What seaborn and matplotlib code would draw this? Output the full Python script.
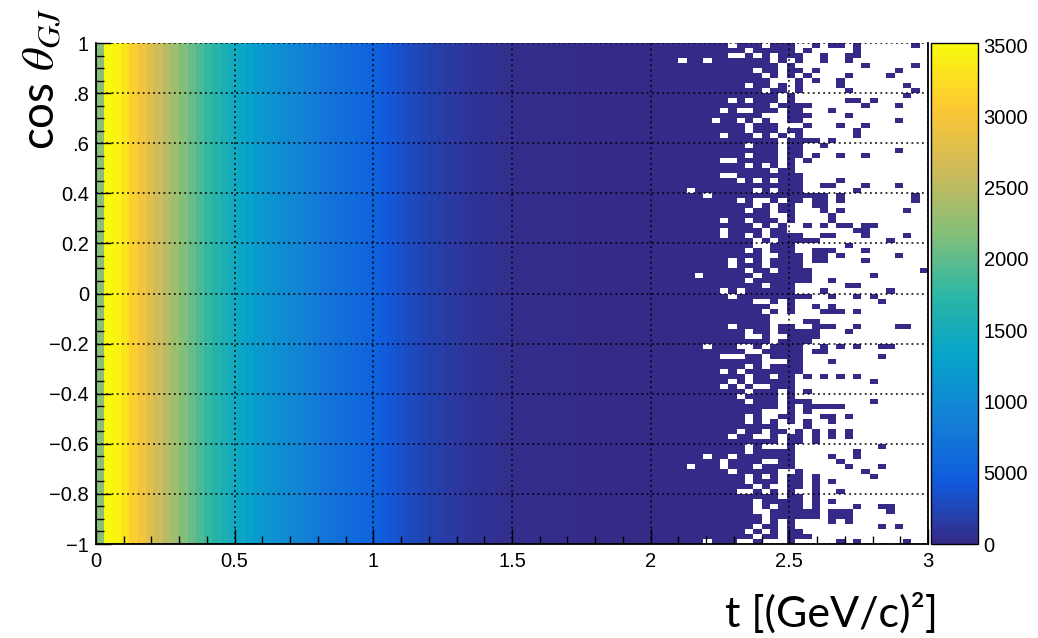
import numpy as np
import pandas as pd
import matplotlib
matplotlib.use("Agg")
import matplotlib.pyplot as plt
import seaborn as sns
from matplotlib.colors import LinearSegmentedColormap

# ---------------- data ----------------
t_min, t_max, n_t = 0.0, 3.0, 100
cos_min, cos_max, n_cos = -1.0, 1.0, 100

# counts per t bin (same for every cos bin), bin width 0.03
t_profile = [
    2200, 3500, 3450, 3300, 3120, 2950, 2780, 2620, 2470, 2320,
    2180, 2040, 1910, 1790, 1670, 1560, 1460, 1370, 1290, 1220,
    1150, 1090, 1030, 970, 910, 860, 810, 760, 710, 660,
    620, 580, 540, 500, 440, 390, 345, 300, 262, 228,
    198, 170, 146, 125, 106, 90, 76, 64, 54, 45,
    38, 33, 29, 25, 22, 19, 17, 15, 13, 12,
    11, 10, 9, 8, 7, 7, 6, 6, 5, 5,
    4, 4, 4, 3, 3, 3, 3, 2, 2, 2,
    2, 2, 2, 2, 2, 2, 2, 1, 1, 1,
    1, 1, 1, 1, 1, 1, 1, 1, 1, 1,
]

# occupancy of the sparse tail (t bins 68..99), '#' = filled, '.' = empty
# first string = top row (cos theta ~ 1)
sparse_first_bin = 68
sparse_rows = [
    "########.###.###..#.##.#......#.",
    "##########.#####.#.....#........",
    "########..#.#.###..#..##........",
    "##.##.#######.#.#..#..#.........",
    "##############.#........#.....#.",
    "###########.##.##.#.........#...",
    "############.#.#.#....#....#....",
    "#############...#.#..#..........",
    "##########.##.#.#....#.......#..",
    "############.##.#.....#.......#.",
    "##############.#.............#..",
    "########.#.###.#......##.#......",
    "#############.####......#...#...",
    "#######.#..###.##...#...........",
    "############...###....#.........",
    "######.##.#.#..##...........#...",
    "##########.###...#...#..#.......",
    "##########.###.##......#........",
    "#######.###.#.#.#......#........",
    "##############.####.#...........",
    "##########.###.##..#............",
    "##############.##...........#...",
    "##########.###.##.#..#..#.......",
    "#######..#####.#.#..............",
    "##########.#.#.#................",
    "#############.##................",
    "#######..########...............",
    "#########.#.#.###....#..........",
    "#################..##...#...#...",
    "###.#######.#.###......#........",
    "#####.##############.#........#.",
    "#########.#..#.##.##.#........#.",
    "###########.#.##..##............",
    "##########.##.##...#.#.......#..",
    "#############..#....#...........",
    "#######.##.###.#....#...........",
    "###########.#.#..#.#.##.##......",
    "#######.####.##........##.......",
    "#######.##.#.####..##...#....#..",
    "###########.#.#####........#....",
    "###########..###......#.........",
    "##########.#.###..###...#.......",
    "############..###.##.#......#...",
    "########.#.#.####.##....#.......",
    "########.###.####...............",
    "##########.##.####.............#",
    "####.######.######.......#......",
    "##########.#######..#...........",
    "############.###......##........",
    "#######.#.######...#.......#....",
    "########.#########..#..#.#......",
    "###########..#.#..........#.....",
    "#############..#..#.#...........",
    "############.#.#...###.#........",
    "#############...................",
    "#############....##.............",
    "########.####.##..###..#....##..",
    "##########.##.#####...#.........",
    "##########..#..####.............",
    "#############.####..............",
    "#####.###..#.####..#.#.#..##....",
    "##########..#####.##............",
    "#######...##.####.........#.....",
    "############...##...#...........",
    "##########.#.####...............",
    "#######.#.#######...............",
    "##########.##.##.#.#.#.#........",
    "########.#.#####.........#......",
    "#######.#.#..###................",
    "##########.###.#.#..............",
    "#########.####.#................",
    "##########.###.###.......#......",
    "##############.#.#####..........",
    "############...#.#..............",
    "##########.#..##...##.#.........",
    "##########.#.#.#.#..#...........",
    "##############...#..............",
    "#########.##.##.#.#.#.#.........",
    "########.##..#.##.#.#.#.........",
    "##############.##.#.............",
    "##########.#...#..........#.....",
    "##########.#####.......#........",
    "#####.##.#######....#..#........",
    "#######.####..##.....#..........",
    "###.###.###.####......#...#.....",
    "########.#####..#.......#.......",
    "##########.#.#.##.#......#......",
    "##########.###.##.#.#...........",
    "###########.#..##.#.............",
    "#########..#.#.#..#..#..........",
    "##############.##.#.............",
    "###########.#####.#.#...........",
    "###########.#.###.#....#..##....",
    "###########..######.###....#....",
    "############.######.###.........",
    "############.#.#....#.#.........",
    "###########.##.#..........#.#...",
    "##########.#.#.##...............",
    "###########.##.###..............",
    "#####.###..#...#.....#.#.....#..",
]

x_ticks = [0, 0.5, 1, 1.5, 2, 2.5, 3]
x_ticklabels = ["0", "0.5", "1", "1.5", "2", "2.5", "3"]
y_ticks = [1, 0.8, 0.6, 0.4, 0.2, 0, -0.2, -0.4, -0.6, -0.8, -1]
y_ticklabels = ["1", ".8", ".6", "0.4", "0.2", "0", "\u22120.2", "\u22120.4",
                "\u22120.6", "\u22120.8", "\u22121"]
z_ticks = [0, 500, 1000, 1500, 2000, 2500, 3000, 3500]
z_ticklabels = ["0", "5000", "1000", "1500", "2000", "2500", "3000", "3500"]
z_max = 3515

# ---------------- build the 2D histogram ----------------
dt = (t_max - t_min) / n_t
dc = (cos_max - cos_min) / n_cos
t_centers = np.round(t_min + dt * (np.arange(n_t) + 0.5), 4)
cos_centers = np.round(cos_max - dc * (np.arange(n_cos) + 0.5), 4)  # top row first

counts = np.zeros((n_cos, n_t))
for i in range(n_cos):
    row = sparse_rows[i].ljust(n_t - sparse_first_bin, ".")
    for j in range(n_t):
        if j < sparse_first_bin or row[j - sparse_first_bin] == "#":
            counts[i, j] = t_profile[j]
df = pd.DataFrame(counts, index=cos_centers, columns=t_centers)

# ROOT kBird palette
bird_r = [0.2082, 0.0592, 0.0780, 0.0232, 0.1802, 0.5301, 0.8186, 0.9956, 0.9764]
bird_g = [0.1664, 0.3599, 0.5041, 0.6419, 0.7178, 0.7492, 0.7328, 0.7862, 0.9832]
bird_b = [0.5293, 0.8684, 0.8385, 0.7914, 0.6425, 0.4662, 0.3499, 0.1968, 0.0539]
stops = np.linspace(0, 1, 9)
bird = LinearSegmentedColormap.from_list(
    "bird", list(zip(stops, zip(bird_r, bird_g, bird_b))), N=256)

# ---------------- figure ----------------
sns.set_style("white")
plt.rcParams["font.family"] = ["Liberation Sans", "DejaVu Sans"]
plt.rcParams["mathtext.fontset"] = "stix"
for key in ["text.color", "axes.labelcolor", "xtick.color", "ytick.color",
            "xtick.labelcolor", "ytick.labelcolor", "axes.edgecolor"]:
    plt.rcParams[key] = "black"

fig = plt.figure(figsize=(10.38, 6.38), dpi=100)
W, H = 1038, 638
ax = fig.add_axes([96 / W, (H - 544) / H, 832 / W, 501 / H])
cax = fig.add_axes([931 / W, (H - 544) / H, 47 / W, 501 / H])

sns.heatmap(df, ax=ax, cmap=bird, vmin=0, vmax=z_max, mask=(counts <= 0),
            cbar_ax=cax, xticklabels=False, yticklabels=False)

def tpos(t):
    return (np.asarray(t, dtype=float) - t_min) / dt

def cpos(c):
    return (cos_max - np.asarray(c, dtype=float)) / dc

ax.set_xticks(tpos(x_ticks))
ax.set_xticklabels(x_ticklabels, fontsize=14.5, rotation=0, color="black")
ax.set_xticks(tpos(np.arange(0, 3.0001, 0.1)), minor=True)
ax.set_yticks(cpos(y_ticks))
ax.set_yticklabels(y_ticklabels, fontsize=14.5, rotation=0, color="black")
ax.set_yticks(cpos(np.arange(-1, 1.0001, 0.05)), minor=True)
ax.set_xlabel("")
ax.set_ylabel("")

ax.tick_params(axis="both", which="both", direction="in", top=False, right=False,
               bottom=True, left=True, color="black", labelcolor="black", width=1.0)
ax.tick_params(axis="x", which="major", length=11, pad=6)
ax.tick_params(axis="x", which="minor", length=5.5)
ax.tick_params(axis="y", which="major", length=11, pad=5)
ax.tick_params(axis="y", which="minor", length=6)

ax.set_axisbelow(False)
ax.grid(True, which="major", color="black", linestyle=(0, (1.2, 2.2)), linewidth=1.1)

for name, sp in ax.spines.items():
    sp.set_visible(True)
    sp.set_color("black")
    sp.set_linewidth(1.3)
ax.spines["top"].set_visible(False)

cbar = ax.collections[0].colorbar
cbar.set_ticks(z_ticks)
cbar.set_ticklabels(z_ticklabels)
cbar.ax.tick_params(which="major", direction="in", length=16, width=1.2,
                    labelsize=14.5, pad=4, right=True, left=False,
                    color="black", labelcolor="black")
cbar.ax.minorticks_off()
cbar.outline.set_visible(True)
cbar.outline.set_edgecolor("black")
cbar.outline.set_linewidth(1.0)

fig.text(42 / W, 1 - 150 / H, "cos $\\theta_{GJ}$", rotation=90, color="black",
         ha="center", va="bottom", fontsize=33, family=["Lato", "DejaVu Sans"])
fig.text(938 / W, 1 - 627 / H, "t [(GeV/c)\u00b2]", ha="right", va="baseline",
         color="black", fontsize=31, family=["Lato", "DejaVu Sans"])

fig.savefig("out.png", dpi=100)
